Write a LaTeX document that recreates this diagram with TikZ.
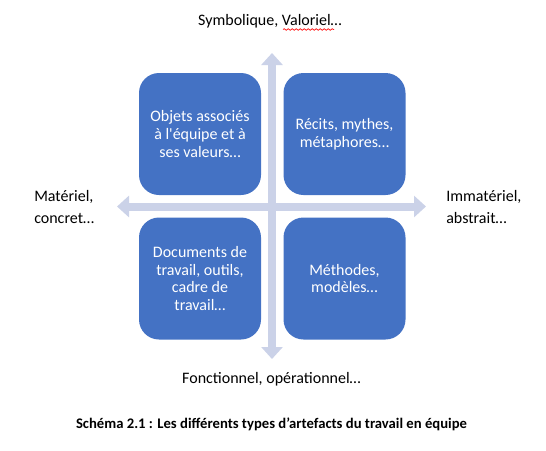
\documentclass[tikz,border=0pt]{standalone}
\usepackage{fontspec}
\setmainfont{Carlito}
\usepackage{tikz}
\usetikzlibrary{arrows.meta}
\usetikzlibrary{decorations.pathmorphing}
\definecolor{boxblue}{HTML}{4472C4}
\definecolor{axisblue}{HTML}{CBD2E8}

\begin{document}
\begin{tikzpicture}[x=0.75pt,y=-0.75pt,
		every node/.style={font=\fontsize{12}{13.4}\selectfont},
		box/.style={rectangle,rounded corners=15pt,fill=boxblue,text=white,minimum width=91.5pt,minimum height=91.5pt,align=center,inner sep=0pt},
		axis/.style={draw=axisblue,line width=6pt,{Triangle[width=15.75pt,length=9pt]}-{Triangle[width=15.75pt,length=9pt]}},
		side/.style={align=left,inner sep=0pt,anchor=west,font=\fontsize{12}{16}\selectfont},
		pole/.style={inner sep=0pt,anchor=base}
		]
		\useasboundingbox (0,0) rectangle (546,450);
		\coordinate (n) at (272,53);
		\coordinate (s) at (272,359);
		\coordinate (w) at (117,206.5);
		\coordinate (e) at (426,206.5);
		\draw[axis] (s) -- (n);
		\draw[axis] (w) -- (e);
		\node (a) [box] at (200,134) {Objets associés\\à l\textquotesingle équipe et à\\ses valeurs\dots};
		\node (b) [box] at (344.5,134) {Récits, mythes,\\métaphores\dots};
		\node (c) [box] at (200,278.5) {Documents de\\travail, outils,\\cadre de\\travail\dots};
		\node (d) [box] at (344.5,278.5) {Méthodes,\\modèles\dots};
		\node (t) [pole] at (270,25) {Symbolique, Valoriel\dots};
		\draw[red,line width=0.5pt,decorate,decoration={snake,amplitude=0.6pt,segment length=3pt}] (283,29.5) -- (334,29.5);
		\node (f) [pole] at (271.5,383) {Fonctionnel, opérationnel\dots};
		\node (l) [side] at (34,207) {Matériel,\\concret\dots};
		\node (r) [side] at (446,207) {Immatériel,\\abstrait\dots};
		\node (g) [pole,font=\fontsize{11}{13}\selectfont\bfseries] at (271.5,428) {Schéma 2.1 : Les différents types d’artefacts du travail en équipe};
		\end{tikzpicture}
\end{document}
